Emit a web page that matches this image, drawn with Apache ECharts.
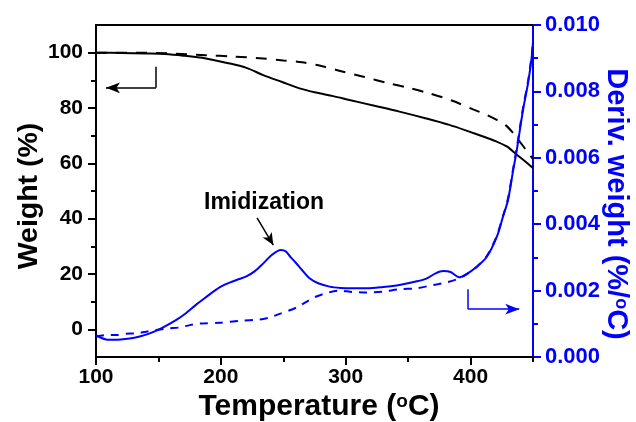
<!DOCTYPE html>
<html><head><meta charset="utf-8">
<script src="https://cdn.jsdelivr.net/npm/echarts@6/dist/echarts.min.js"></script>
<style>html,body{margin:0;padding:0;background:#fff}#c{width:636px;height:422px}</style>
</head><body><div id="c"></div>
<script>
// Weight (TGA) curves: [temperature, weight %]
const weightSolid = [[100,100.0],[120,99.9],[140,99.7],[155,99.5],[170,98.9],[188,97.9],[205,96.3],[220,94.6],[234,91.9],[249,89.4],[263,87.1],[276,85.6],[290,84.3],[303,82.9],[323,80.8],[343,78.7],[363,76.4],[383,73.9],[400,71.3],[410,69.7],[420,68.0],[429,66.1],[437,63.1],[444,60.6],[450,58.3]];
const weightDashed = [[100,100.0],[130,100.0],[160,99.7],[188,99.1],[210,98.6],[234,97.9],[250,97.2],[265,96.5],[282,95.0],[298,93.1],[315,91.2],[333,89.1],[350,87.3],[367,85.3],[385,82.7],[402,79.5],[412,77.7],[421,75.7],[428,73.8],[434,71.0],[440,67.5],[445,64.5],[450,61.5]];
// Derivative weight curves: [temperature, %/°C]
const derivSolid = [[100,0.00066],[104,0.00058],[108,0.00053],[115,0.00052],[127,0.00056],[135,0.00062],[143,0.00071],[153,0.00088],[164,0.00111],[172,0.00132],[180,0.00157],[187,0.00177],[194,0.00197],[200,0.00212],[207,0.00224],[214,0.00234],[220,0.00242],[227,0.00258],[234,0.00282],[241,0.00308],[248,0.00322],[252,0.00318],[256,0.00300],[260,0.00284],[265,0.00262],[271,0.00237],[278,0.00222],[287,0.00212],[296,0.00208],[305,0.00207],[317,0.00207],[330,0.00211],[343,0.00217],[357,0.00228],[365,0.00237],[372,0.00252],[378,0.00259],[384,0.00256],[391,0.00240],[396,0.00248],[405,0.00272],[413,0.00302],[421,0.00362],[426,0.00423],[430,0.00473],[434,0.00560],[437,0.00623],[442,0.00744],[446,0.00824],[449,0.00904],[450,0.00950]];
const derivDashed = [[100,0.00061],[108,0.00066],[116,0.00066],[124,0.00070],[132,0.00071],[140,0.00076],[148,0.00081],[158,0.00086],[167,0.00089],[175,0.00096],[183,0.00101],[199,0.00103],[215,0.00109],[231,0.00113],[240,0.00120],[247,0.00130],[254,0.00139],[261,0.00150],[268,0.00165],[275,0.00180],[285,0.00193],[295,0.00200],[305,0.00196],[317,0.00194],[330,0.00197],[343,0.00204],[357,0.00207],[370,0.00217],[380,0.00224],[391,0.00237],[398,0.00252],[405,0.00272],[413,0.00304],[421,0.00365],[426,0.00425],[430,0.00478],[434,0.00565],[437,0.00630],[442,0.00750],[446,0.00830],[449,0.00910],[450,0.00950]];
// tick values
const xMajor = [100,200,300,400];
const xMinor = [150,250,350,450];
const yMajor = [0,20,40,60,80,100];
const yMinor = [10,30,50,70,90];
// annotations (data coordinates)
const weightArrow = [[148,94.9],[148,87.3],[108,87.3]];
const derivArrow = [[398,0.00204],[398,0.00144],[439,0.00144]];
const imidArrow = [[229,0.00419],[242,0.00337]];
const imidLabel = [234.6,0.00464];

const FONT = "'Liberation Sans', Arial, sans-serif";
const BLUE = '#0000ff';
const chart = echarts.init(document.getElementById('c'), null, {renderer:'canvas'});
const lab = (c,s)=>({color:c, fontFamily:FONT, fontWeight:'bold', fontSize:s});
const noZero = {onZero:false};
chart.setOption({
  animation:false,
  grid:{left:96,right:103,top:25,bottom:65,containLabel:false,outerBoundsMode:'none'},
  xAxis:[
    {type:'value',position:'bottom',min:100,max:450,interval:50,
     axisLine:{...noZero,lineStyle:{color:'#000',width:2}},
     axisTick:{show:true,customValues:xMajor,length:8,lineStyle:{color:'#000',width:2}},
     axisLabel:{customValues:xMajor,margin:10,...lab('#000',21)},
     splitLine:{show:false},
     name:'{a|Temperature (}{s|o}{a|C)}',nameLocation:'middle',nameGap:35,nameMoveOverlap:false,
     nameTextStyle:{padding:[0,0,0,9],rich:{a:{fontFamily:FONT,fontWeight:'bold',fontSize:30,color:'#000'},s:{fontFamily:FONT,fontWeight:'bold',fontSize:19,color:'#000',verticalAlign:'top'}}}},
    {type:'value',position:'bottom',min:100,max:450,interval:50,
     axisLine:{...noZero,show:false},
     axisTick:{show:true,customValues:xMinor,length:5,lineStyle:{color:'#000',width:2}},
     axisLabel:{show:false},splitLine:{show:false}},
    {type:'value',position:'top',min:100,max:450,interval:50,
     axisLine:{...noZero,lineStyle:{color:'#000',width:2}},axisTick:{show:false},axisLabel:{show:false},splitLine:{show:false}}
  ],
  yAxis:[
    {type:'value',position:'left',min:-10,max:110,interval:10,
     axisLine:{...noZero,show:true,lineStyle:{color:'#000',width:2}},
     axisTick:{show:true,customValues:yMajor,length:8,lineStyle:{color:'#000',width:2}},
     axisLabel:{customValues:yMajor,margin:13,...lab('#000',21)},
     splitLine:{show:false},
     name:'Weight (%)',nameLocation:'middle',nameGap:52,nameMoveOverlap:false,
     nameTextStyle:{padding:[0,10,0,0],fontFamily:FONT,fontWeight:'bold',fontSize:28.5,color:'#000'}},
    {type:'value',position:'left',min:-10,max:110,interval:10,
     axisLine:{...noZero,show:false},
     axisTick:{show:true,customValues:yMinor,length:5,lineStyle:{color:'#000',width:2}},
     axisLabel:{show:false},splitLine:{show:false}},
    {type:'value',position:'right',min:0,max:0.01,interval:0.002,
     axisLine:{...noZero,show:true,lineStyle:{color:BLUE,width:2}},
     axisTick:{show:true,length:8,lineStyle:{color:BLUE,width:2}},
     minorTick:{show:true,splitNumber:2,length:5,lineStyle:{color:BLUE,width:2}},
     axisLabel:{margin:12,formatter:(v)=>v.toFixed(3),...lab(BLUE,22)},
     splitLine:{show:false},
     name:'{a|Deriv. weight (%/}{s|o}{a|C)}',nameLocation:'middle',nameGap:68,nameRotate:-90,nameMoveOverlap:false,
     nameTextStyle:{padding:[0,0,0,26],rich:{a:{fontFamily:FONT,fontWeight:'bold',fontSize:29,color:BLUE},s:{fontFamily:FONT,fontWeight:'bold',fontSize:18,color:BLUE,verticalAlign:'top'}}}}
  ],
  series:[
    {type:'line',xAxisIndex:0,yAxisIndex:0,data:weightSolid,showSymbol:false,smooth:0.3,
     lineStyle:{color:'#000',width:2},
     markLine:{silent:true,symbol:['none','none'],label:{show:false},
       lineStyle:{color:'#000',width:1.5,type:'solid'},
       data:[
         [{coord:weightArrow[0]},{coord:weightArrow[1]}],
         [{coord:weightArrow[1],symbol:'none'},{coord:weightArrow[2],symbol:'arrow',symbolSize:[8,14]}]
       ]}},
    {type:'line',xAxisIndex:0,yAxisIndex:0,data:weightDashed,showSymbol:false,smooth:0.3,
     lineStyle:{color:'#000',width:2,type:[11,9]}},
    {type:'line',xAxisIndex:0,yAxisIndex:2,data:derivSolid,showSymbol:false,smooth:0.3,
     lineStyle:{color:BLUE,width:2},
     markLine:{silent:true,symbol:['none','none'],label:{show:false},
       lineStyle:{color:BLUE,width:1.5,type:'solid'},
       data:[
         [{coord:derivArrow[0]},{coord:derivArrow[1]}],
         [{coord:derivArrow[1],symbol:'none'},{coord:derivArrow[2],symbol:'arrow',symbolSize:[8,14]}],
         [{coord:imidArrow[0],symbol:'none',lineStyle:{color:'#000'}},{coord:imidArrow[1],symbol:'arrow',symbolSize:[8,12],itemStyle:{color:'#000'}}]
       ]},
     markPoint:{silent:true,data:[{coord:imidLabel,symbol:'circle',symbolSize:1,itemStyle:{color:'rgba(0,0,0,0)'},
       label:{show:true,position:'inside',formatter:'Imidization',color:'#000',fontFamily:FONT,fontWeight:'bold',fontSize:23}}]}},
    {type:'line',xAxisIndex:0,yAxisIndex:2,data:derivDashed,showSymbol:false,smooth:0.3,
     lineStyle:{color:BLUE,width:2,type:[8,7]}}
  ]
});
</script></body></html>
